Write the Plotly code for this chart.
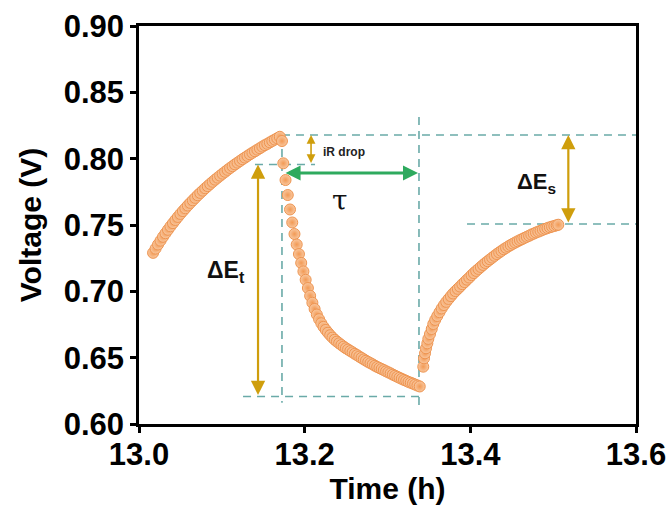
import plotly.graph_objects as go

# ---------------- data ----------------
charge1_t = [13.017, 13.020, 13.023, 13.026, 13.029, 13.032, 13.035, 13.038, 13.041, 13.044,
             13.047, 13.050, 13.053, 13.056, 13.059, 13.062, 13.065, 13.068, 13.071, 13.074,
             13.077, 13.080, 13.083, 13.086, 13.089, 13.092, 13.095, 13.098, 13.101, 13.104,
             13.107, 13.110, 13.113, 13.116, 13.119, 13.122, 13.125, 13.128, 13.131, 13.134,
             13.137, 13.140, 13.143, 13.146, 13.149, 13.152, 13.155, 13.158, 13.161, 13.164,
             13.167, 13.170]
charge1_v = [0.7290, 0.7322, 0.7353, 0.7382, 0.7411, 0.7438, 0.7464, 0.7490, 0.7514, 0.7538,
             0.7561, 0.7584, 0.7605, 0.7626, 0.7647, 0.7667, 0.7686, 0.7705, 0.7724, 0.7742,
             0.7759, 0.7777, 0.7793, 0.7810, 0.7826, 0.7842, 0.7857, 0.7872, 0.7887, 0.7901,
             0.7916, 0.7930, 0.7943, 0.7957, 0.7970, 0.7983, 0.7996, 0.8008, 0.8021, 0.8033,
             0.8045, 0.8056, 0.8068, 0.8079, 0.8091, 0.8102, 0.8112, 0.8123, 0.8134, 0.8144,
             0.8154, 0.8165]

discharge_t = [13.1726, 13.1742, 13.1769, 13.1796, 13.1823, 13.1850, 13.1877, 13.1904, 13.1931,
               13.1958, 13.1985, 13.2012, 13.2039, 13.2066, 13.2093, 13.2120, 13.2147, 13.2174,
               13.2201, 13.2228, 13.2255, 13.2282, 13.2309, 13.2336, 13.2363, 13.2390, 13.2417,
               13.2444, 13.2471, 13.2498, 13.2525, 13.2552, 13.2579, 13.2606, 13.2633, 13.2660,
               13.2687, 13.2714, 13.2741, 13.2768, 13.2795, 13.2822, 13.2849, 13.2876, 13.2903,
               13.2930, 13.2957, 13.2984, 13.3011, 13.3038, 13.3065, 13.3092, 13.3119, 13.3146,
               13.3173, 13.3200, 13.3227, 13.3254, 13.3281, 13.3308, 13.3335, 13.3362, 13.3389]
discharge_v = [0.8133, 0.7965, 0.7839, 0.7726, 0.7617, 0.7519, 0.7432, 0.7353, 0.7281,
               0.7214, 0.7150, 0.7087, 0.7025, 0.6966, 0.6914, 0.6867, 0.6825, 0.6790,
               0.6759, 0.6732, 0.6709, 0.6688, 0.6669, 0.6651, 0.6635, 0.6621, 0.6608,
               0.6595, 0.6583, 0.6571, 0.6561, 0.6550, 0.6540, 0.6529, 0.6519, 0.6508,
               0.6498, 0.6487, 0.6477, 0.6467, 0.6458, 0.6449, 0.6439, 0.6430, 0.6422,
               0.6414, 0.6406, 0.6397, 0.6389, 0.6381, 0.6372, 0.6364, 0.6356, 0.6348,
               0.6340, 0.6332, 0.6325, 0.6317, 0.6311, 0.6304, 0.6297, 0.6290, 0.6283]

charge2_t = [13.3432, 13.3441, 13.3453, 13.3465, 13.3481, 13.3493, 13.3513, 13.3534, 13.3553,
             13.3576, 13.3601, 13.3628, 13.3654, 13.3682, 13.3710, 13.3738, 13.3766, 13.3793,
             13.3821, 13.3849, 13.3877, 13.3904, 13.3932, 13.3960, 13.3988, 13.4015, 13.4043,
             13.4071, 13.4099, 13.4127, 13.4154, 13.4182, 13.4210, 13.4238, 13.4265, 13.4293,
             13.4321, 13.4349, 13.4376, 13.4404, 13.4432, 13.4460, 13.4488, 13.4515, 13.4543,
             13.4571, 13.4599, 13.4626, 13.4654, 13.4682, 13.4710, 13.4737, 13.4765, 13.4793,
             13.4821, 13.4848, 13.4876, 13.4904, 13.4932, 13.4960, 13.4987, 13.5015, 13.5043,
             13.5062]
charge2_v = [0.6432, 0.6495, 0.6533, 0.6571, 0.6608, 0.6642, 0.6678, 0.6716, 0.6754,
             0.6785, 0.6814, 0.6843, 0.6871, 0.6897, 0.6921, 0.6943, 0.6964, 0.6984,
             0.7002, 0.7019, 0.7036, 0.7054, 0.7070, 0.7088, 0.7104, 0.7122, 0.7138,
             0.7154, 0.7169, 0.7184, 0.7199, 0.7214, 0.7227, 0.7241, 0.7254, 0.7268,
             0.7281, 0.7293, 0.7305, 0.7317, 0.7328, 0.7339, 0.7349, 0.7359, 0.7368,
             0.7377, 0.7386, 0.7394, 0.7403, 0.7411, 0.7419, 0.7428, 0.7435, 0.7443,
             0.7450, 0.7457, 0.7464, 0.7471, 0.7477, 0.7483, 0.7488, 0.7493, 0.7498,
             0.7502]

x_ticks = [13.0, 13.2, 13.4, 13.6]
y_ticks = [0.60, 0.65, 0.70, 0.75, 0.80, 0.85, 0.90]

# guide levels (annotation geometry)
v_peak = 0.8178
v_drop = 0.7956
v_min = 0.6207
v_end = 0.7508
t_switch = 13.1726
t_tau_end = 13.3380

# ---------------- styles ----------------
ORANGE = "#F29A55"
CENTER = "#F9C8A0"
EDGE = "#EE9450"
GOLD = "#CF9E0C"
GREEN = "#2EAA5E"
DASH = "#6AAAA8"
FONT = "Liberation Sans, Arial, sans-serif"

fig = go.Figure()
t_all = charge1_t + discharge_t + charge2_t
v_all = charge1_v + discharge_v + charge2_v
fig.add_trace(go.Scatter(
    x=t_all, y=v_all, mode="markers", showlegend=False,
    marker=dict(size=11, color=CENTER,
                gradient=dict(type="radial", color=ORANGE),
                line=dict(color=EDGE, width=1)),
))

dash_line = dict(color=DASH, width=1.6, dash="8px,6px")
shapes = [
    dict(type="line", xref="x", yref="y", x0=t_switch, x1=13.6, y0=v_peak, y1=v_peak, line=dash_line, layer="below"),
    dict(type="line", xref="x", yref="y", x0=13.140, x1=13.2125, y0=v_drop, y1=v_drop, line=dash_line, layer="below"),
    dict(type="line", xref="x", yref="y", x0=13.1256, x1=t_tau_end, y0=v_min, y1=v_min, line=dash_line, layer="below"),
    dict(type="line", xref="x", yref="y", x0=13.396, x1=13.6, y0=v_end, y1=v_end, line=dash_line, layer="below"),
    dict(type="line", xref="x", yref="y", x0=t_switch, x1=t_switch, y0=v_peak, y1=0.6160, line=dash_line, layer="below"),
    dict(type="line", xref="x", yref="y", x0=t_tau_end, x1=t_tau_end, y0=0.8314, y1=0.6130, line=dash_line, layer="below"),
]

def arrow(x0, y0, x1, y1, color, width, size=1.0):
    return dict(x=x1, y=y1, ax=x0, ay=y0, xref="x", yref="y", axref="x", ayref="y",
                text="", showarrow=True, arrowhead=2, startarrowhead=2,
                arrowside="end+start", arrowsize=size, startarrowsize=size,
                arrowwidth=width, arrowcolor=color)

annotations = [
    arrow(13.2077, v_drop, 13.2077, v_peak, GOLD, 1.6, 1.1),
    arrow(13.1437, v_min, 13.1437, v_drop, GOLD, 2.2, 1.3),
    arrow(13.5183, v_end, 13.5183, v_peak, GOLD, 2.2, 1.3),
    arrow(13.1751, 0.7892, 13.3368, 0.7892, GREEN, 3.0, 1.0),
    dict(x=13.248, y=0.8053, xref="x", yref="y", text="<b>iR drop</b>", showarrow=False,
         font=dict(family=FONT, size=12, color="#222222")),
    dict(x=13.2427, y=0.7688, xref="x", yref="y", text="τ", showarrow=False,
         font=dict(family="DejaVu Serif, Liberation Serif, serif", size=28, color="#111111")),
    dict(x=13.1045, y=0.7150, xref="x", yref="y", text="<b>ΔE<sub>t</sub></b>", showarrow=False,
         font=dict(family=FONT, size=23, color="#111111")),
    dict(x=13.4800, y=0.7820, xref="x", yref="y", text="<b>ΔE<sub>s</sub></b>", showarrow=False,
         font=dict(family=FONT, size=22, color="#111111")),
]

axis_common = dict(showline=True, linewidth=2.5, linecolor="black", mirror=True,
                   ticks="outside", ticklen=6, tickwidth=2.5, tickcolor="black",
                   showgrid=False, zeroline=False, automargin=False,
                   tickfont=dict(family=FONT, size=31, color="black", weight="bold"))

fig.update_layout(
    width=672, height=517,
    margin=dict(l=139, r=36, t=26, b=93),
    paper_bgcolor="white", plot_bgcolor="white",
    xaxis=dict(range=[13.0, 13.6], tickvals=x_ticks, tickformat=".1f", ticklabelstandoff=-5,
               title=dict(text="<b>Time (h)</b>", font=dict(family=FONT, size=30, color="black"), standoff=6),
               **axis_common),
    yaxis=dict(range=[0.60, 0.90], tickvals=y_ticks, tickformat=".2f",
               title=dict(text="<b>Voltage (V)</b>", font=dict(family=FONT, size=30, color="black"), standoff=14),
               **axis_common),
    shapes=shapes,
    annotations=annotations,
)

fig.write_html("out.html", config={"displayModeBar": False},
               post_script="document.body.style.margin='0';document.body.style.padding='0';")
